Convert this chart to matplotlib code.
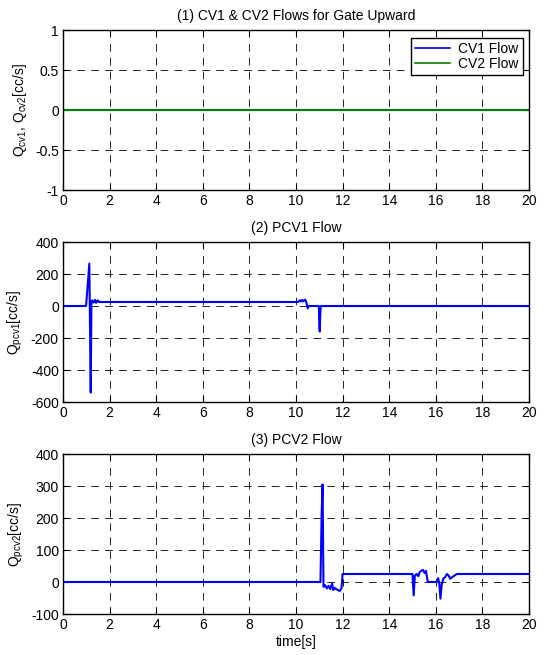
import matplotlib
matplotlib.use("Agg")
import matplotlib.pyplot as plt
from matplotlib.ticker import FixedLocator, FuncFormatter

plt.rcParams['font.family'] = ['Liberation Sans', 'DejaVu Sans']
plt.rcParams['mathtext.fontset'] = 'custom'
plt.rcParams['mathtext.rm'] = 'Liberation Sans'
plt.rcParams['mathtext.it'] = 'Liberation Sans'
plt.rcParams['axes.unicode_minus'] = False
plt.rcParams['lines.scale_dashes'] = False

# (1) check-valve flows: both stay at zero
t_cv = [0, 20]
q_cv1 = [0, 0]
q_cv2 = [0, 0]

# (2) PCV1 flow [cc/s]
t_pcv1 = [0, 0.99, 1.13, 1.19, 1.22, 1.26, 1.30, 1.34, 1.38, 1.42, 1.46, 1.50, 1.55, 1.60,
          10.10, 10.15, 10.20, 10.25, 10.30, 10.35, 10.40, 10.45, 10.50, 10.55, 10.60,
          10.98, 11.00, 11.02, 11.04, 11.06, 20]
q_pcv1 = [0, 0, 265, -541, 30, 35, 22, 25, 38, 20, 28, 35, 25, 25,
          25, 35, 30, 38, 28, 35, 40, 20, -15, 0, 0,
          0, -120, -160, -60, 0, 0]

# (3) PCV2 flow [cc/s]
t_pcv2 = [0, 11.05, 11.10, 11.14, 11.18, 11.25, 11.32, 11.40, 11.47, 11.55, 11.60, 11.65,
          11.72, 11.80, 11.88, 11.95, 12.00, 12.05,
          15.00, 15.05, 15.10, 15.18, 15.25, 15.30, 15.38, 15.45, 15.52, 15.58, 15.62, 15.66,
          16.05, 16.10, 16.15, 16.20, 16.25, 16.32, 16.40, 16.48, 16.55, 16.62, 16.70, 16.80,
          16.90, 17.00, 20]
q_pcv2 = [0, 0, 210, 305, -15, -10, -20, -12, -22, -5, -25, -18,
          -22, -25, -28, -20, 25, 25,
          25, -42, 20, 25, 18, 30, 35, 38, 28, 35, 15, 0,
          0, 12, -5, -52, -10, 10, 15, 25, 20, 10, 15, 20,
          25, 25, 25]

x_ticks = list(range(0, 21, 2))

fig = plt.figure(figsize=(5.44, 6.55), dpi=100)
left, width, height = 63 / 544, 466 / 544, 160 / 655
ax1 = fig.add_axes([left, 1 - 190 / 655, width, height])
ax2 = fig.add_axes([left, 1 - 402 / 655, width, height])
ax3 = fig.add_axes([left, 1 - 614 / 655, width, height])

fs = 10
fmt = FuncFormatter(lambda v, p: ('%g' % v))


def style(ax, yticks, ylim):
    ax.set_xlim(0, 20)
    ax.set_ylim(*ylim)
    ax.xaxis.set_major_locator(FixedLocator(x_ticks))
    ax.yaxis.set_major_locator(FixedLocator(yticks))
    ax.yaxis.set_major_formatter(fmt)
    ax.xaxis.set_major_formatter(fmt)
    ax.tick_params(direction='in', top=True, right=True, length=4, width=0.8,
                   labelsize=fs, pad=3)
    ax.grid(True, color='k', linestyle=(0, (5.5, 4.5)), linewidth=0.6)
    for s in ax.spines.values():
        s.set_linewidth(1.0)


ax1.plot(t_cv, q_cv1, color='#0000ff', lw=1.5, label='CV1 Flow')
ax1.plot(t_cv, q_cv2, color='#008000', lw=1.5, label='CV2 Flow')
style(ax1, [-1, -0.5, 0, 0.5, 1], (-1, 1))
ax1.set_title('(1) CV1 & CV2 Flows for Gate Upward', fontsize=fs, pad=7)
ax1.set_ylabel('Q$_{\\rm cv1}$, Q$_{\\rm cv2}$[cc/s]', fontsize=fs)
leg = ax1.legend(loc='upper right', fontsize=fs, fancybox=False, framealpha=1,
                 edgecolor='k', borderpad=0.3, handlelength=2.5, handletextpad=0.6,
                 labelspacing=0.05, borderaxespad=0, bbox_to_anchor=(0.987, 0.95))
leg.get_frame().set_linewidth(1.0)
for ln in leg.get_lines():
    ln.set_linewidth(1.2)

ax2.plot(t_pcv1, q_pcv1, color='#0000ff', lw=1.5)
style(ax2, [-600, -400, -200, 0, 200, 400], (-600, 400))
ax2.set_title('(2) PCV1 Flow', fontsize=fs, pad=7)
ax2.set_ylabel('Q$_{\\rm pcv1}$[cc/s]', fontsize=fs)

ax3.plot(t_pcv2, q_pcv2, color='#0000ff', lw=1.5)
style(ax3, [-100, 0, 100, 200, 300, 400], (-100, 400))
ax3.set_title('(3) PCV2 Flow', fontsize=fs, pad=7)
ax3.set_ylabel('Q$_{\\rm pcv2}$[cc/s]', fontsize=fs)
ax3.set_xlabel('time[s]', fontsize=fs, labelpad=2)

fig.savefig('out.png', dpi=100)
